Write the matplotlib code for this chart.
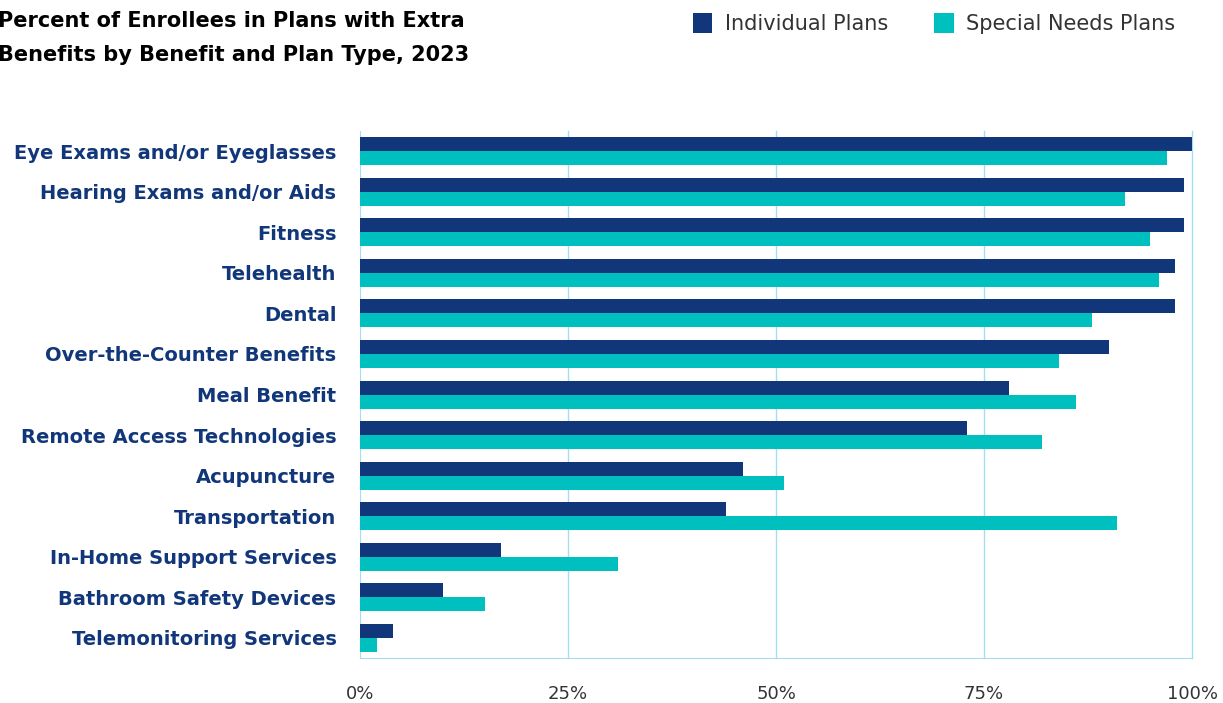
import matplotlib.pyplot as plt
import numpy as np

# Données
categories = ["Eye Exams and/or Eyeglasses", "Hearing Exams and/or Aids", "Fitness",
              "Telehealth", "Dental", "Over-the-Counter Benefits", "Meal Benefit",
              "Remote Access Technologies", "Acupuncture", "Transportation",
              "In-Home Support Services", "Bathroom Safety Devices",
              "Telemonitoring Services"]
individual = [100, 99, 99, 98, 98, 90, 78, 73, 46, 44, 17, 10, 4]
special_needs = [97, 92, 95, 96, 88, 84, 86, 82, 51, 91, 31, 15, 2]
ticks = [0, 25, 50, 75, 100]
tick_labels = ["0%", "25%", "50%", "75%", "100%"]

navy = "#11377a"
teal = "#00bfbf"
grid_col = "#a6dcf0"

fig = plt.figure(figsize=(12.23, 7.03), dpi=100)
ax = fig.add_axes([0.2944, 0.0636, 0.6803, 0.7504])

y = np.arange(len(categories))
h = 0.345
ax.barh(y - h / 2, individual, height=h, color=navy, label="Individual Plans", zorder=3)
ax.barh(y + h / 2, special_needs, height=h, color=teal, label="Special Needs Plans", zorder=3)

ax.set_ylim(len(categories) - 0.5, -0.5)
ax.set_xlim(0, 100)
ax.set_yticks(y)
ax.set_yticklabels(categories, fontsize=14, fontweight="bold", color=navy)
ax.set_xticks(ticks)
ax.set_xticklabels(tick_labels, fontsize=13, color="#333333")
ax.tick_params(axis="both", length=0)
ax.tick_params(axis="y", pad=17)
ax.tick_params(axis="x", pad=19)

# grille verticale (la ligne à 100% est tracée à part pour ne pas être coupée)
for t in ticks[1:]:
    ax.axvline(t, color=grid_col, linewidth=1, zorder=0, clip_on=False)
for s in ["top", "right"]:
    ax.spines[s].set_visible(False)
ax.spines["left"].set_color(grid_col)
ax.spines["bottom"].set_color(grid_col)

fig.text(-0.002, 0.985, "Percent of Enrollees in Plans with Extra\nBenefits by Benefit and Plan Type, 2023",
         fontsize=15, fontweight="bold", color="black", va="top", ha="left", linespacing=1.9)

fig.legend(loc="upper left", bbox_to_anchor=(0.551, 1.008), ncol=2, frameon=False,
           fontsize=15, handlelength=0.95, handleheight=1.1, handletextpad=0.6,
           columnspacing=2.2, labelcolor="#333333")

plt.savefig("out.png")
